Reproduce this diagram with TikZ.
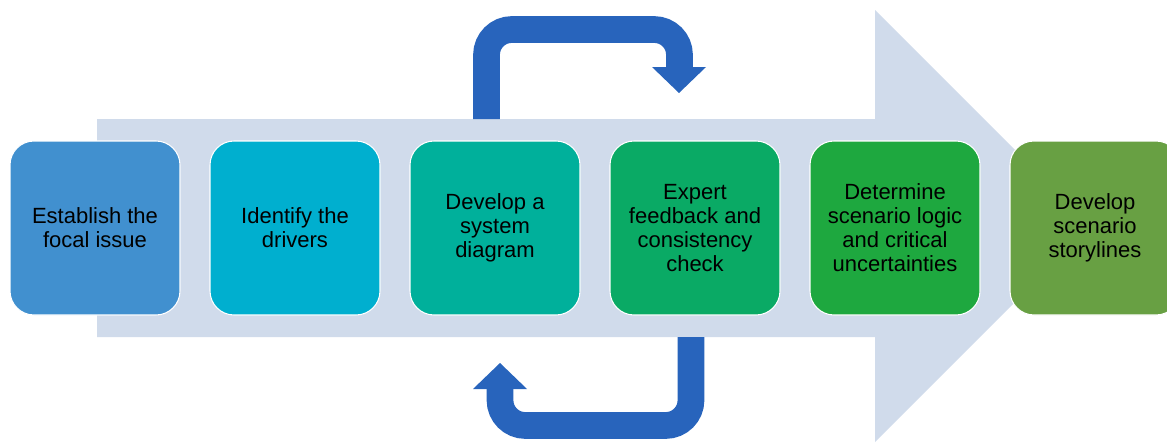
\documentclass[tikz,border=0pt]{standalone}
\usepackage{fontspec}
\setmainfont{Liberation Sans}
\definecolor{bgArrow}{HTML}{D0DBEB}
\definecolor{loopBlue}{HTML}{2864BC}
\definecolor{stageA}{HTML}{4190CF}
\definecolor{stageB}{HTML}{00AFCF}
\definecolor{stageC}{HTML}{00B09B}
\definecolor{stageD}{HTML}{0AAA65}
\definecolor{stageE}{HTML}{1EA83F}
\definecolor{stageF}{HTML}{68A043}
\begin{document}
\begin{tikzpicture}[x=0.75pt,y=0.75pt,yscale=-1,
  stage/.style={rounded corners=18pt, draw=white, line width=0.8pt, minimum width=127.5pt, minimum height=130.5pt, align=center, inner sep=0pt, text=black, font=\fontsize{16.5}{18}\selectfont},
  loop/.style={draw=loopBlue, line width=20pt, rounded corners=19pt}]

\useasboundingbox (0,0) rectangle (1167,443);
\clip (0,0) rectangle (1167,443);

% background arrow
\fill [bgArrow] (97,119) -- (875,119) -- (875,10) -- (1091,226) -- (875,442) -- (875,337) -- (97,337) -- cycle ;

% feedback loops
\draw [loop] (486.5,119) -- (486.5,29.5) -- (679.5,29.5) -- (679.5,68) ;
\fill [loopBlue] (652,67) -- (706,67) -- (679,93) -- cycle ;
\draw [loop] (691,337) -- (691,425.5) -- (500,425.5) -- (500,388) ;
\fill [loopBlue] (473,389) -- (527,389) -- (500,363) -- cycle ;

% stages
\node [stage, fill=stageA] (focal) at (95,228) {Establish the\\focal issue};
\node [stage, fill=stageB] (drivers) at (295,228) {Identify the\\drivers};
\node [stage, fill=stageC] (system) at (495,228) {Develop a\\system\\diagram};
\node [stage, fill=stageD] (expert) at (695,228) {Expert\\feedback and\\consistency\\check};
\node [stage, fill=stageE] (logic) at (895,228) {Determine\\scenario logic\\and critical\\uncertainties};
\node [stage, fill=stageF] (story) at (1095,228) {Develop\\scenario\\storylines};
\end{tikzpicture}
\end{document}
